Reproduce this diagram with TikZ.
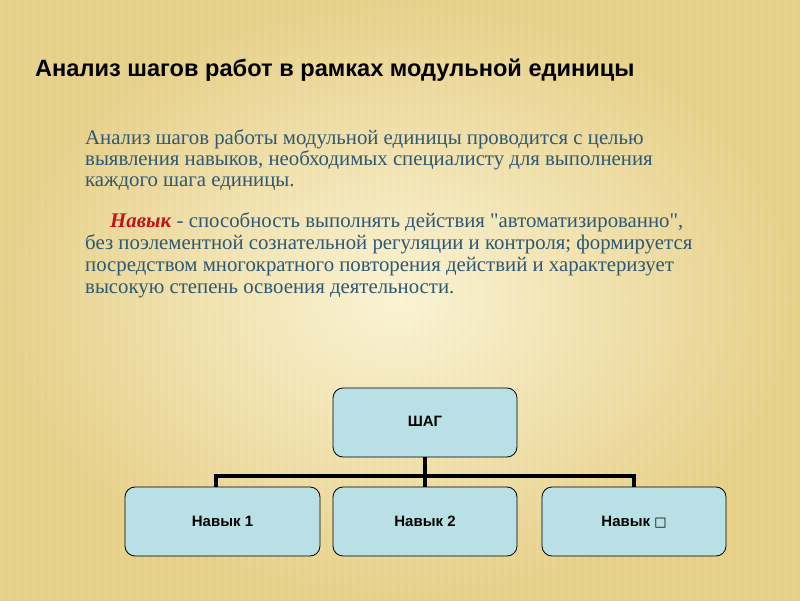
\documentclass[tikz,border=0pt]{standalone}
\usepackage{fontspec}
\setmainfont{Liberation Serif}[Ligatures=TeXOff]
\newfontfamily\sans{Liberation Sans}
\newfontfamily\dejavu{DejaVu Sans}
\definecolor{bgout}{HTML}{E6CF86}
\definecolor{bgin}{HTML}{FAF2D2}
\definecolor{bodyc}{HTML}{2E5873}
\definecolor{boxc}{HTML}{B9E0E5}
\definecolor{redc}{HTML}{C0141C}
\tikzset{
  box/.style={draw=black, line width=0.8pt, fill=boxc, rounded corners=10pt, minimum width=184pt, minimum height=69pt, font=\sans\bfseries\fontsize{15}{17}\selectfont, inner sep=0pt, text height=11pt, text depth=2pt},
  link/.style={line width=3.5pt, black},
  bodytxt/.style={anchor=west, text=bodyc, font=\fontsize{20.8}{22}\selectfont, inner sep=0pt, text height=14pt, text depth=4pt}
}
\begin{document}
\begin{tikzpicture}[x=1pt,y=1pt]
\useasboundingbox (0,0) rectangle (800,600);
\shade[inner color=bgin, outer color=bgout] (0,0) rectangle (800,600);
\foreach \i in {0,8,...,800} \fill[white,opacity=0.08] (\i,0) rectangle ++(4,600);
% title
\node[anchor=west, font=\sans\bfseries\fontsize{23.6}{26}\selectfont, inner sep=0pt] (title) at (35,530) {Анализ шагов работ в рамках модульной единицы};
% body
\node[bodytxt] (l1) at (85,460) {Анализ шагов работы модульной единицы проводится с целью};
\node[bodytxt] (l2) at (85,439) {выявления навыков, необходимых специалисту для выполнения};
\node[bodytxt] (l3) at (85,418) {каждого шага единицы.};
\node[bodytxt] (p2) at (110,377) {\textcolor{redc}{\textbf{\textit{Навык}}} - способность выполнять действия "автоматизированно",};
\node[bodytxt] (l5) at (85,355) {без поэлементной сознательной регуляции и контроля; формируется};
\node[bodytxt] (l6) at (85,333) {посредством многократного повторения действий и характеризует};
\node[bodytxt] (l7) at (85,311) {высокую степень освоения деятельности.};
% diagram
\node[box] (shag) at (425,177.5) {ШАГ};
\node[box, minimum width=195pt] (n1) at (222.5,78.5) {Навык 1};
\node[box] (n2) at (425,78.5) {Навык 2};
\node[box] (n3) at (634,78.5) {Навык {\dejavu\mdseries\fontsize{13}{14}\selectfont □}};
\coordinate (j) at (425,124);
\draw[link] (shag.south) -- (j);
\draw[link] (214,124) -- (636,124);
\draw[link] (216,124) -- (216,113);
\draw[link] (j) -- (n2.north);
\draw[link] (634,124) -- (n3.north);
\end{tikzpicture}
\end{document}
